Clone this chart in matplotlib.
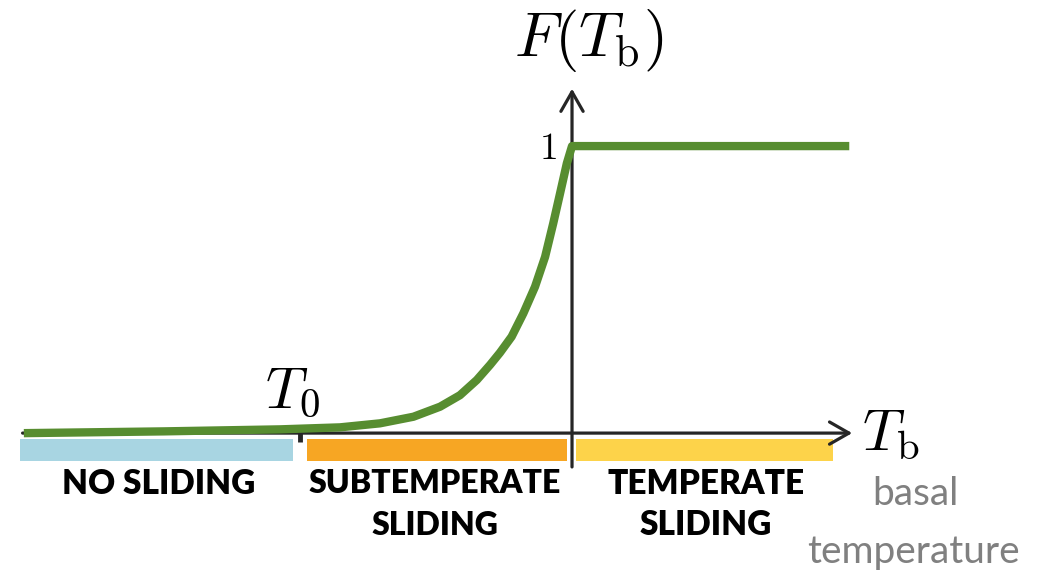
import matplotlib.pyplot as plt

plt.rcParams['mathtext.fontset'] = 'cm'

# curve (T in arbitrary units, T0 = -1, melting point = 0)
T_vals = [-2.0, -1.5, -1.074, -0.853, -0.706, -0.583, -0.485, -0.412, -0.350,
          -0.301, -0.265, -0.222, -0.179, -0.136, -0.099, -0.069, -0.044,
          -0.019, 0.0, 1.004]
F_vals = [0.0, 0.006, 0.013, 0.020, 0.034, 0.057, 0.092, 0.132, 0.185,
          0.238, 0.280, 0.336, 0.417, 0.510, 0.614, 0.731, 0.835,
          0.940, 1.0, 1.0]
T0 = -1.0

# sliding regimes below the axis
regimes = ['NO SLIDING', 'SUBTEMPERATE\nSLIDING', 'TEMPERATE\nSLIDING']
reg_start = [-2.029, -0.974, 0.015]
reg_end = [-1.026, -0.018, 0.960]
reg_colors = ['#a8d5e2', '#f7a623', '#fdd34a']

green = '#578d30'
axcol = '#262626'

fig = plt.figure(figsize=(10.54, 5.72), dpi=100)
ax = fig.add_axes([0, 0, 1, 1])
ax.set_xlim(-2.103, 1.772)
ax.set_ylim(-0.484, 1.509)
ax.axis('off')

# regime bars
for s, e, c in zip(reg_start, reg_end, reg_colors):
    ax.barh(-0.059, e - s, left=s, height=0.077, color=c, zorder=1)

# axes with arrows
arr = dict(arrowstyle='->,head_length=0.7,head_width=0.4', lw=2.3, color=axcol,
           shrinkA=0, shrinkB=0, mutation_scale=20)
ax.annotate('', xy=(1.03, 0), xytext=(-2.02, 0), arrowprops=arr, zorder=2)
ax.annotate('', xy=(0, 1.2), xytext=(0, -0.118), arrowprops=arr, zorder=2)
ax.plot([T0, T0], [0, -0.03], color=axcol, lw=3.5, solid_capstyle='butt', zorder=2)

# F(T_b)
ax.plot(T_vals, F_vals, color=green, lw=6, solid_joinstyle='round', zorder=3)

# labels
ax.text(0.0625, 1.369, r'$F(T_\mathrm{b})$', fontsize=45, ha='center', va='center')
ax.text(-0.088, 0.99, r'$1$', fontsize=27, ha='center', va='center')
ax.text(-1.029, 0.143, r'$T_0$', fontsize=42, ha='center', va='center')
ax.text(1.173, 0.0, r'$T_\mathrm{b}$', fontsize=42, ha='center', va='center')
ax.text(1.261, -0.213, 'basal', fontsize=28, color='#808080', ha='center',
        va='center', family='Lato')
ax.text(1.257, -0.415, 'temperature', fontsize=28, color='#808080', ha='center',
        va='center', family='Lato')

lab_x = [-1.518, -0.504, 0.493]
lab_size = [24, 23, 24]
for name, x, fs in zip(regimes, lab_x, lab_size):
    lines = name.split('\n')
    for i, ln in enumerate(lines):
        ax.text(x, -0.176 - 0.145 * i, ln, fontsize=fs, fontweight='heavy',
                family='Lato', ha='center', va='center')

fig.savefig('out.png', dpi=100)
